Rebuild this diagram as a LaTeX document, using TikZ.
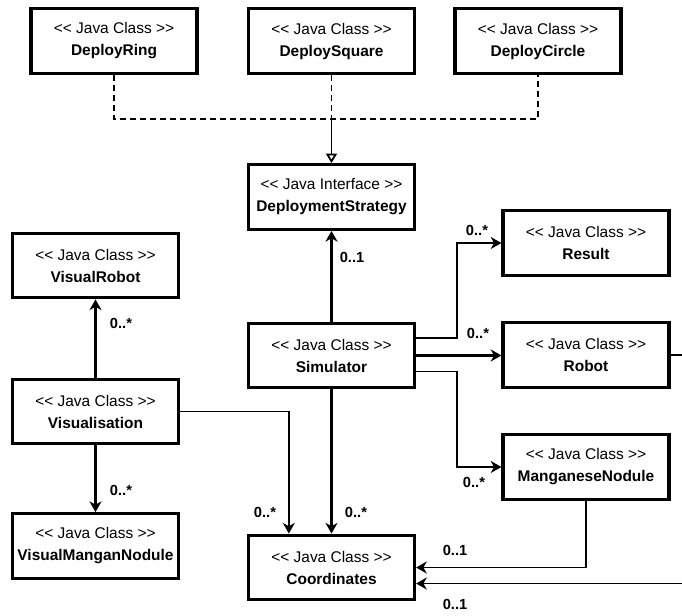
\documentclass[tikz,border=0pt]{standalone}
\usepackage{fontspec}
\usepackage{tikz}
\usetikzlibrary{arrows.meta, positioning, calc}
\newfontfamily\uml{Liberation Sans}[Ligatures=TeXOff]
\newcommand{\jclass}[1]{<< Java Class >>\\\textbf{#1}}

\begin{document}
\begin{tikzpicture}[
    x=0.75pt, y=-0.75pt,
    >={Stealth[length=8pt, width=9pt, inset=2.5pt]},
    umlbox/.style={draw, line width=2.4pt, minimum width=124.5pt, minimum height=48.5pt, align=center, inner sep=0pt, font=\uml\fontsize{11.6}{16.5}\selectfont},
    assoc/.style={->, line width=2pt},
    thinassoc/.style={->, line width=1.3pt},
    realize/.style={line width=1.2pt, dash pattern=on 4.5pt off 3pt},
    mult/.style={font=\uml\bfseries\fontsize{11}{13}\selectfont, inner sep=0pt}
  ]
    \useasboundingbox (0,0) rectangle (682,615);
    \clip (0,0) rectangle (682,615);

    % Strategies
    \node[umlbox] (ring) at (114,41) {\jclass{DeployRing}};
    \node[umlbox] (square) at (331.5,41) {\jclass{DeploySquare}};
    \node[umlbox] (circle) at (538,41) {\jclass{DeployCircle}};
    \node[umlbox] (strategy) at (331.5,197) {<< Java Interface >>\\\textbf{DeploymentStrategy}};

    % Core classes
    \node[umlbox] (sim) at (331.5,355.5) {\jclass{Simulator}};
    \node[umlbox] (result) at (586,243) {\jclass{Result}};
    \node[umlbox] (robot) at (586,355) {\jclass{Robot}};
    \node[umlbox] (nodule) at (586,467) {\jclass{ManganeseNodule}};
    \node[umlbox] (coords) at (331.5,567.5) {\jclass{Coordinates}};

    % Visualisation
    \node[umlbox] (visrobot) at (95.5,265.5) {\jclass{VisualRobot}};
    \node[umlbox] (vis) at (95.5,411.5) {\jclass{Visualisation}};
    \node[umlbox] (visnodule) at (95.5,546) {\jclass{VisualManganNodule}};

    % Realisation
    \coordinate (join) at (331.5,119);
    \draw[realize] (ring.south) |- (join) -| (circle.south);
    \draw[realize] (square.south) -- (join);
    \draw[line width=1.3pt, -{Triangle[open, length=7pt, width=8pt]}] (join) -- (strategy.north);

    % Associations
    \draw[assoc] (sim.north) -- (strategy.south);
    \draw[thinassoc] ([yshift=13pt]sim.east) -- ++(41,0) |- (result.west);
    \draw[assoc] (sim.east) -- (sim.east -| robot.west);
    \draw[thinassoc] ([yshift=-12pt]sim.east) -- ++(41,0) |- (nodule.west);
    \draw[assoc] (sim.south) -- (coords.north);
    \draw[thinassoc] (vis.east) -| ([xshift=-32pt]coords.north);
    \draw[thinassoc] (nodule.south) |- (coords.east);
    \draw[thinassoc] (robot.east) -- ++(30,0) |- ([yshift=-12pt]coords.east);
    \draw[assoc] (vis.north) -- (visrobot.south);
    \draw[assoc] (vis.south) -- (visnodule.north);

    % Multiplicities
    \node[mult] at (352,257) {0..1};
    \node[mult] at (477,230) {0..*};
    \node[mult] at (478,333) {0..*};
    \node[mult] at (474,482) {0..*};
    \node[mult] at (121,323) {0..*};
    \node[mult] at (121,490) {0..*};
    \node[mult] at (356,512) {0..*};
    \node[mult] at (265,512) {0..*};
    \node[mult] at (455,550) {0..1};
    \node[mult] at (455,604) {0..1};
  \end{tikzpicture}
\end{document}
